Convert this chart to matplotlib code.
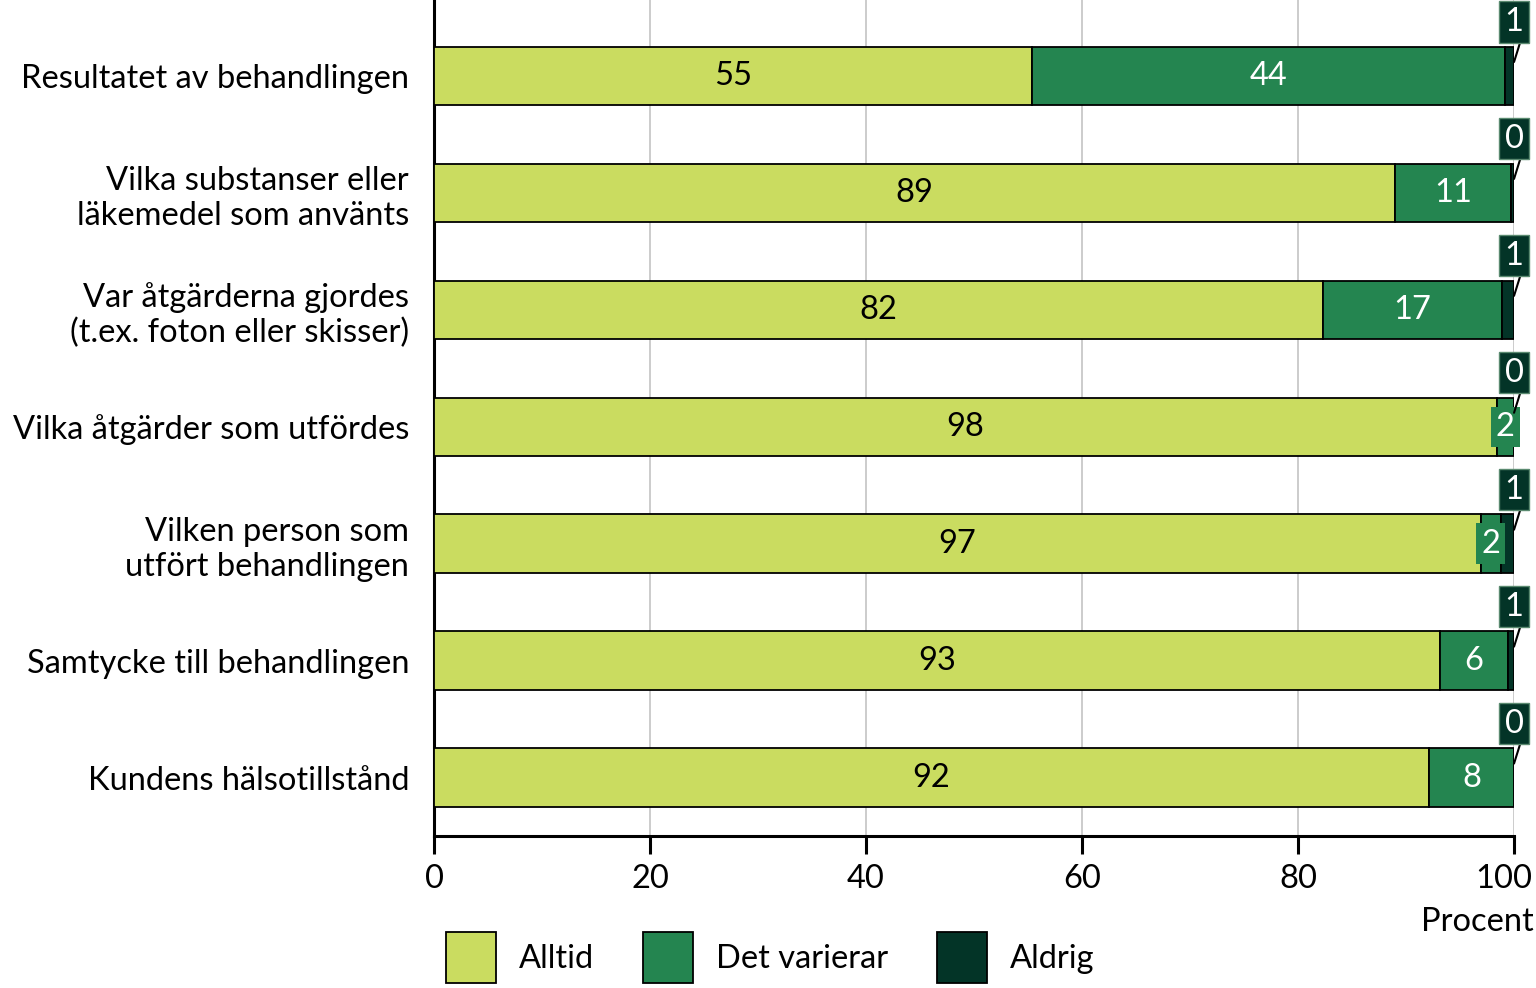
import matplotlib.pyplot as plt
import matplotlib.transforms as mtransforms
import numpy as np

plt.rcParams['font.family'] = ['Lato', 'DejaVu Sans']

categories = ['Resultatet av behandlingen',
              'Vilka substanser eller\nläkemedel som använts',
              'Var åtgärderna gjordes\n(t.ex. foton eller skisser)',
              'Vilka åtgärder som utfördes',
              'Vilken person som\nutfört behandlingen',
              'Samtycke till behandlingen',
              'Kundens hälsotillstånd']
alltid = [55.4, 89.0, 82.3, 98.4, 96.9, 93.1, 92.1]
varierar = [43.8, 10.7, 16.6, 1.6, 1.9, 6.3, 7.9]
aldrig = [0.8, 0.3, 1.1, 0.0, 1.2, 0.6, 0.0]
series_names = ['Alltid', 'Det varierar', 'Aldrig']
colors = ['#CADC60', '#248550', '#033427']
xticks = [0, 20, 40, 60, 80, 100]

FS = 23.5

fig = plt.figure(figsize=(15.36, 9.88), dpi=100)
ax = fig.add_axes([0.2826, 0.1538, 0.9857 - 0.2826, 1 - 0.1538])

y = np.arange(len(categories))
left = np.zeros(len(categories))
bars = []
for vals, col, name in zip([alltid, varierar, aldrig], colors, series_names):
    b = ax.barh(y, vals, left=left, height=0.5, color=col,
                edgecolor='black', linewidth=1.3, label=name, zorder=3)
    bars.append(b)
    left = left + np.array(vals)

# labels inside bars
for i in range(len(categories)):
    ax.text(alltid[i] / 2, y[i], f'{round(alltid[i])}', ha='center', va='center',
            fontsize=FS, color='black', zorder=5)
    cx = alltid[i] + varierar[i] / 2
    if varierar[i] < 4:
        ax.text(cx, y[i], f'{round(varierar[i])}', ha='center', va='center',
                fontsize=FS, color='white', zorder=6,
                bbox=dict(boxstyle='square,pad=0.16', fc=colors[1], ec='none'))
    else:
        ax.text(cx, y[i], f'{round(varierar[i])}', ha='center', va='center',
                fontsize=FS, color='white', zorder=5)
    # Aldrig label above the bar end
    total = alltid[i] + varierar[i] + aldrig[i]
    ax.annotate(f'{round(aldrig[i])}', xy=(total, y[i] - 0.12),
                xytext=(7, 18), textcoords='offset points',
                ha='right', va='bottom', fontsize=FS, color='white', zorder=6,
                bbox=dict(boxstyle='square,pad=0.17', fc=colors[2],
                          ec='#5a8a70', lw=1),
                arrowprops=dict(arrowstyle='-', color='black', lw=1.5,
                                shrinkA=0, shrinkB=0, relpos=(0.9, 0)),
                annotation_clip=False)

ax.set_xlim(0, 100)
ax.set_ylim(6.5, -0.65)
ax.set_yticks(y)
ax.set_yticklabels(categories, fontsize=FS, linespacing=1.2)
ax.tick_params(axis='y', length=0, pad=18)
ax.set_xticks(xticks)
ax.tick_params(axis='x', direction='out', length=13, width=2.2,
               labelsize=FS, pad=7)
last = ax.get_xticklabels()[-1]
last.set_transform(last.get_transform() +
                   mtransforms.ScaledTranslation(-0.1, 0, fig.dpi_scale_trans))
ax.xaxis.grid(True, color='#c4c4c4', linewidth=1.2, zorder=0)
ax.set_axisbelow(True)
for s in ['top', 'right']:
    ax.spines[s].set_visible(False)
for s in ['left', 'bottom']:
    ax.spines[s].set_linewidth(2.2)

ax.text(1.018, -0.085, 'Procent', transform=ax.transAxes, ha='right', va='top',
        fontsize=FS)

fig.legend(handles=bars, labels=series_names, loc='lower left',
           bbox_to_anchor=(0.282, -0.008), ncol=3, frameon=False, fontsize=FS,
           handlelength=1.53, handleheight=2.0, handletextpad=0.7,
           columnspacing=1.5, borderaxespad=0.0)

plt.savefig('out.png', dpi=100)
